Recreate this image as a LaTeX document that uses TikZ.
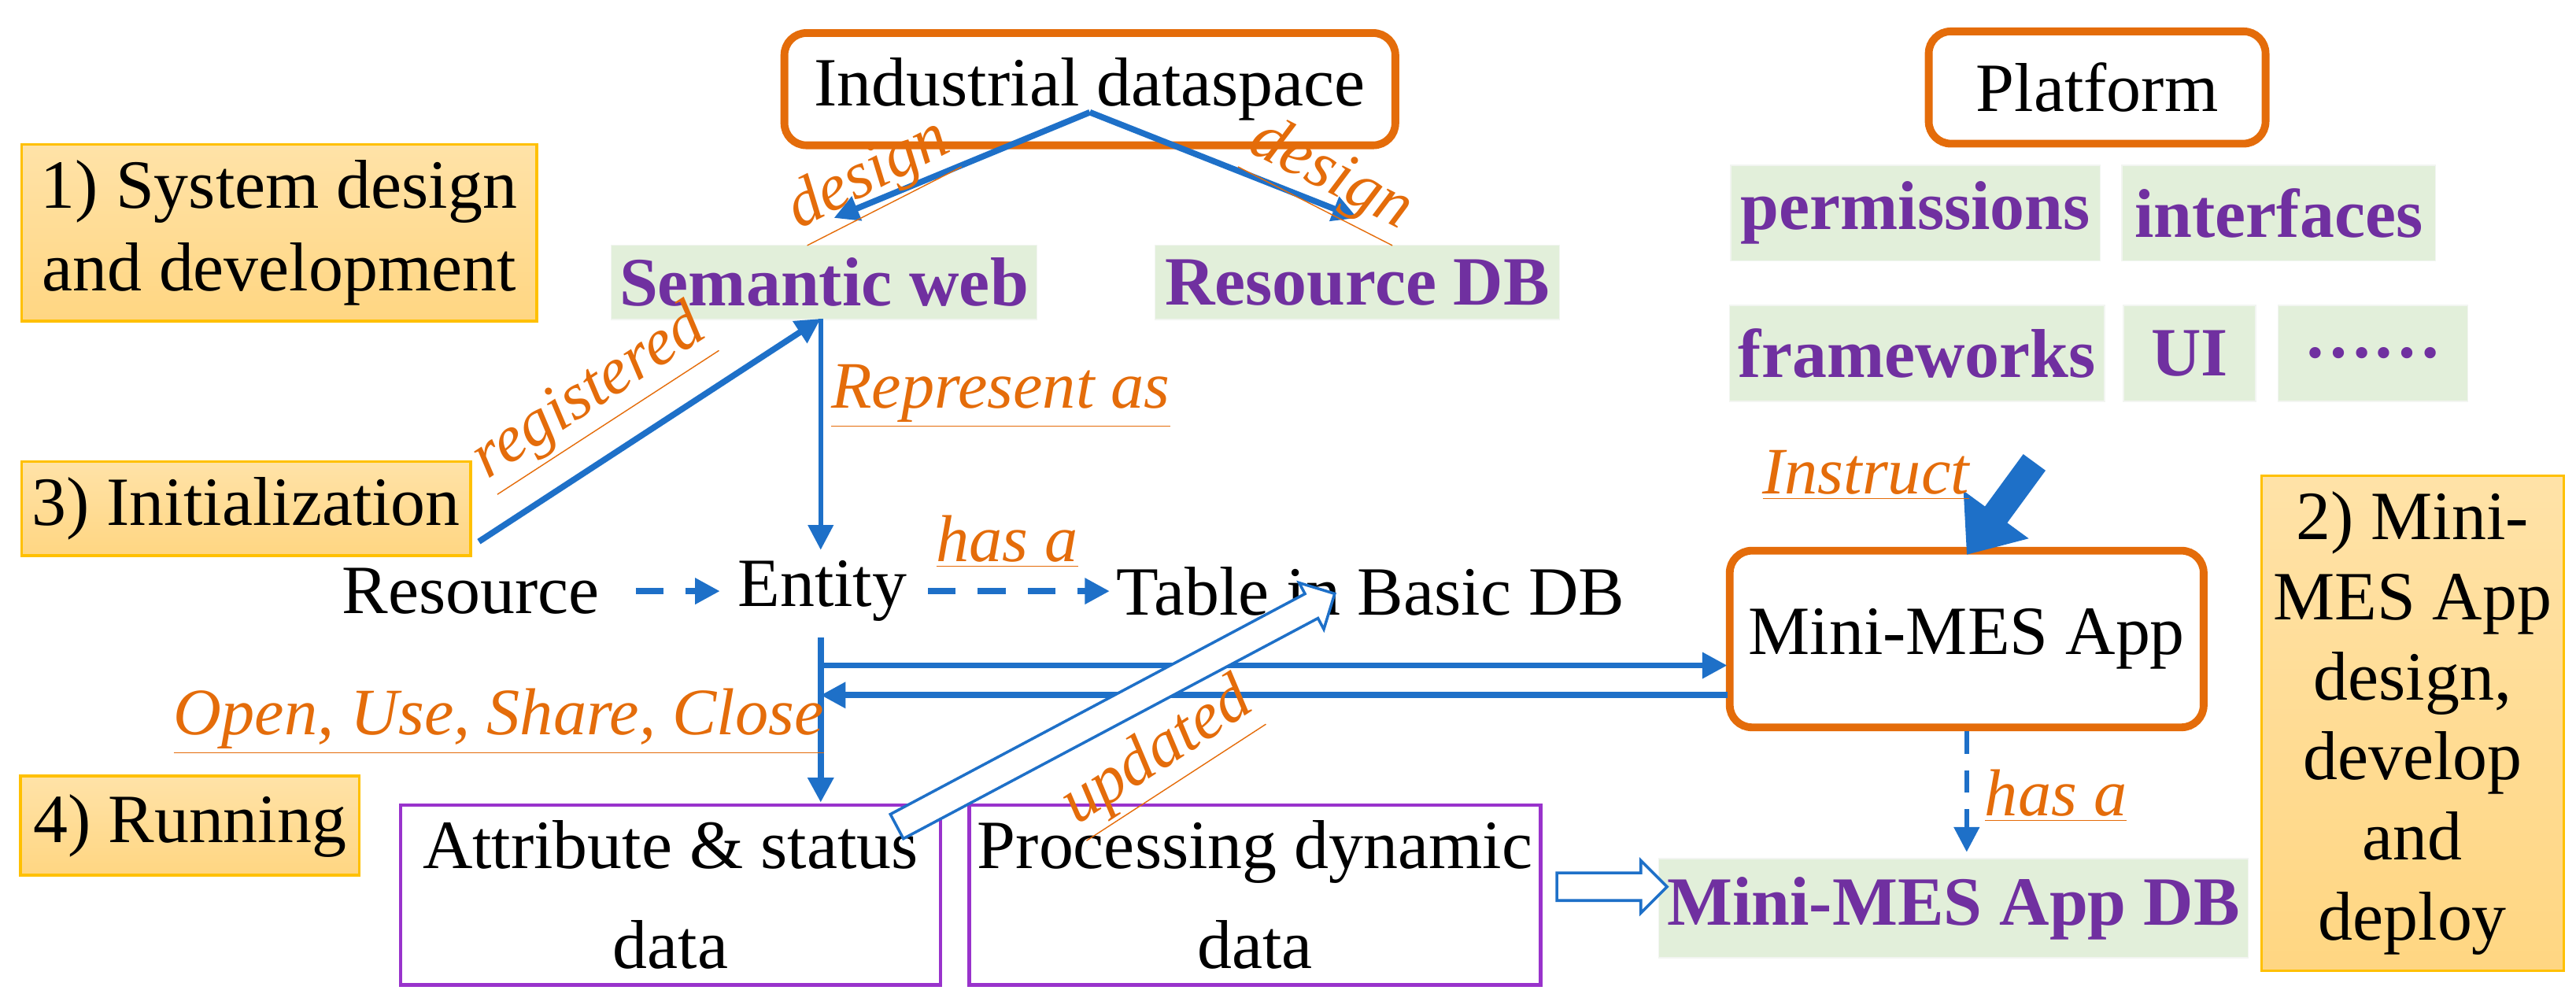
\documentclass[tikz,border=0pt]{standalone}
\usepackage{fontspec}
\setmainfont{Liberation Serif}
\usetikzlibrary{arrows.meta,shapes.arrows}
\definecolor{bl}{RGB}{30,112,200}
\definecolor{org}{RGB}{228,108,10}
\definecolor{pur}{RGB}{112,48,160}
\definecolor{grn}{RGB}{226,239,218}
\definecolor{yel}{RGB}{255,214,130}
\definecolor{gold}{RGB}{255,192,0}
\definecolor{vio}{RGB}{153,51,204}
\begin{document}
\begin{tikzpicture}[x=0.02098cm,y=-0.02098cm,
 every node/.style={font=\fontsize{25}{30}\selectfont},
 obox/.style={draw=org,line width=2.8pt,rounded corners=8pt,fill=white,inner sep=0pt},
 gbox/.style={fill=grn,draw=grn!85!black!20,inner sep=0pt,text=pur,font=\fontsize{25}{30}\selectfont\bfseries},
 ybox/.style={top color=yel!70,bottom color=yel,draw=gold,line width=1pt,inner sep=0pt,align=center},
 pbox/.style={draw=vio,line width=1.2pt,inner sep=0pt,align=center},
 lab/.style={text=org,font=\fontsize{24}{28}\selectfont\itshape,inner sep=1pt},
 arr/.style={draw=bl,line width=2.2pt,-{Triangle[length=9pt,width=9pt]}},
 darr/.style={arr,dash pattern=on 10pt off 8pt},
 hol/.style={single arrow,draw=bl,line width=1pt,fill=white,minimum height=#1,single arrow head extend=4.5pt,inner xsep=0pt,inner ysep=4.5pt}]
\useasboundingbox (0,0) rectangle (1560,608.2);
\newcommand{\ulab}[1]{\underline{#1}}
% boxes
\node[obox,minimum width={1.049*7.4cm},minimum height={1.049*1.36cm}] (ids) at (660,54) {Industrial dataspace};
\node[obox,minimum width={1.049*4.08cm},minimum height={1.049*1.36cm}] (plat) at (1270,53) {Platform};
\node[ybox,minimum width={1.049*6.24cm},minimum height={1.049*2.14cm}] (s1) at (169,141) {1) System design\\and development};
\node[gbox,minimum width={1.049*5.16cm},minimum height={1.049*0.9cm}] (sw) at (499,171) {Semantic web};
\node[gbox,minimum width={1.049*4.9cm},minimum height={1.049*0.9cm}] (rdb) at (822,171) {Resource DB};
\node[gbox,minimum width={1.049*4.48cm},minimum height={1.049*1.16cm}] (perm) at (1160,129) {permissions};
\node[gbox,minimum width={1.049*3.8cm},minimum height={1.049*1.16cm}] (intf) at (1380,129) {interfaces};
\node[gbox,minimum width={1.049*4.54cm},minimum height={1.049*1.16cm}] (fw) at (1161,214) {frameworks};
\node[gbox,minimum width={1.049*1.6cm},minimum height={1.049*1.16cm}] (ui) at (1326,214) {UI};
\node[gbox,minimum width={1.049*2.3cm},minimum height={1.049*1.16cm}] (dots) at (1437,214) {……};
\node[ybox,minimum width={1.049*5.44cm},minimum height={1.049*1.14cm}] (s3) at (149,308) {3) Initialization};
\node (res) at (285,358) {Resource};
\node (ent) at (498,358) {Entity};
\node (tab) at (830,358) {Table in Basic DB};
\node[obox,minimum width={1.049*5.74cm},minimum height={1.049*2.14cm}] (mes) at (1191,387) {Mini-MES App};
\node[ybox,minimum width={1.049*3.66cm},minimum height={1.049*6.0cm},font=\fontsize{25}{29}\selectfont] (s2) at (1461,438) {2) Mini-\\MES App\\design,\\develop\\and\\deploy};
\node[ybox,minimum width={1.049*4.1cm},minimum height={1.049*1.2cm}] (s4) at (115,500) {4) Running};
\node[pbox,minimum width={1.049*6.54cm},minimum height={1.049*2.18cm},font=\fontsize{25}{36}\selectfont] (att) at (406,542) {Attribute \& status\\data};
\node[pbox,minimum width={1.049*6.92cm},minimum height={1.049*2.18cm},font=\fontsize{25}{36}\selectfont] (proc) at (760,542) {Processing dynamic\\data};
\node[gbox,minimum width={1.049*7.14cm},minimum height={1.049*1.2cm}] (mdb) at (1183,550) {Mini-MES App DB};
% coordinates
\coordinate (idsb) at (660,68);
\coordinate (rstart) at (290,328);
\coordinate (swtop) at (497,193);
\coordinate (ent1) at (497,386);
\coordinate (ent2) at (497,486);
% arrows
\draw[arr] (idsb) -- (505,132);
\draw[arr] (idsb) -- (822,132);
\draw[arr] (rstart) -- (swtop);
\draw[arr,line width=1.6pt] (swtop) -- (497,333);
\draw[darr] (385,358) -- (436,358);
\draw[darr] (562,358) -- (672,358);
\draw[arr] (ent1) -- (ent2);
\draw[arr] (497,403) -- (1046,403);
\draw[arr] (1046,421) -- (497,421);
\draw[darr,line width=1.6pt,dash pattern=on 8pt off 6pt] (1191,443) -- (1191,516);
\draw[bl,line width=10pt,-{Triangle[length=18pt,width=28pt]}] (1232,280) -- (1191,336);
\node[hol=6.3cm,rotate=28] (upd) at (672,432) {};
\node[hol=1.4cm] (ha) at (972,537) {};
% labels
\node[lab,rotate=27] (l1) at (527,108) {\ulab{design}};
\node[lab,rotate=-27] (l2) at (805,108) {\ulab{design}};
\node[lab,rotate=33] (l3) at (358,240) {\ulab{registered}};
\node[lab] (l4) at (606,240) {\ulab{Represent as}};
\node[lab] (l5) at (610,328) {\ulab{has a}};
\node[lab] (l6) at (1130,288) {\ulab{Instruct}};
\node[lab] (l7) at (302,437) {\ulab{Open, Use, Share, Close}};
\node[lab,rotate=33] (l8) at (702,458) {\ulab{updated}};
\node[lab] (l9) at (1245,482) {\ulab{has a}};
\end{tikzpicture}
\end{document}
